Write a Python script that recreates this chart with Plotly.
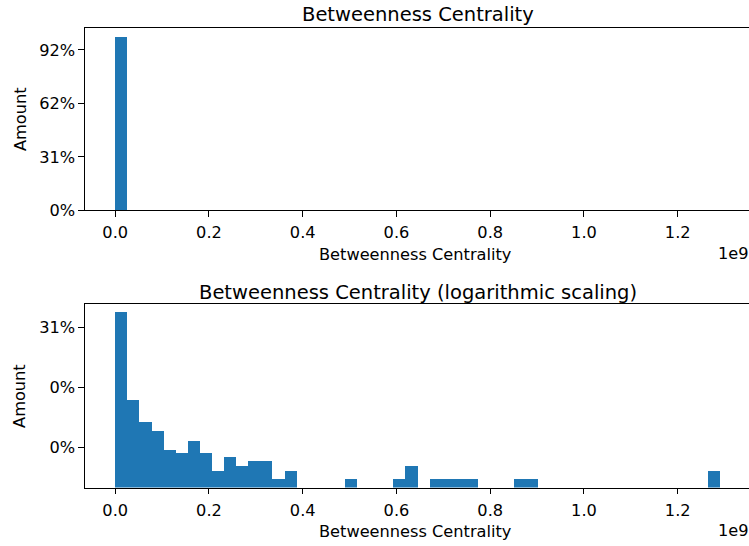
import numpy as np
import plotly.graph_objects as go

# ---------------- data ----------------
title_top = "Betweenness Centrality"
title_bottom = "Betweenness Centrality (logarithmic scaling)"
x_label = "Betweenness Centrality"
y_label = "Amount"
x_offset_text = "1e9"

x_max = 1.29e9          # upper edge of the last bin
n_bins = 50

# top panel (linear): only the first bin is visibly above zero
top_counts = [1755] + [0] * 49

# bottom panel (log scale)
log_counts = [1755, 62, 26, 19, 9, 8, 13, 8, 4, 7,
              5, 6, 6, 3, 4, 0, 0, 0, 0, 3,
              0, 0, 0, 3, 5, 0, 3, 3, 3, 3,
              0, 0, 0, 3, 3, 0, 0, 0, 0, 0,
              0, 0, 0, 0, 0, 0, 0, 0, 0, 4]

x_tick_vals = [0.0, 0.2e9, 0.4e9, 0.6e9, 0.8e9, 1.0e9, 1.2e9]
x_tick_text = ["0.0", "0.2", "0.4", "0.6", "0.8", "1.0", "1.2"]

top_y_tick_vals = [0, 540, 1080, 1620]
top_y_tick_text = ["0%", "31%", "62%", "92%"]

log_y_tick_vals = [10, 100, 1000]
log_y_tick_text = ["0%", "0%", "31%"]

# ---------------- layout ----------------
W, H = 749, 546
FONT = "DejaVu Sans"
BAR_COLOR = "#1f77b4"
TICK_SIZE = 16.2
TITLE_SIZE = 19.5

edges = np.linspace(0, x_max, n_bins + 1)
centers = (edges[:-1] + edges[1:]) / 2
bin_w = edges[1] - edges[0]
top = np.array(top_counts, dtype=float)
logc = np.array(log_counts, dtype=float)

x_lo = -0.05 * x_max
x_hi = 1.3521e9

top_y_range = [0, 1.05 * top.max()]
pos = logc[logc > 0]
llo, lhi = np.log10(pos.min()), np.log10(pos.max())
m = 0.05 * (lhi - llo)
log_y_range = [llo - m, lhi + m]

def py(px):
    return 1 - px / H

def px_x(px):
    return (px - 85) / (W - 85)

top_dom = [py(214.3), py(28.3)]
bot_dom = [py(496.7), py(310.0)]

fig = go.Figure()
fig.add_trace(go.Bar(x=centers, y=top, width=bin_w, marker_color=BAR_COLOR,
                     marker_line_width=0, xaxis="x", yaxis="y", showlegend=False))
fig.add_trace(go.Bar(x=centers, y=np.where(logc > 0, logc, np.nan), width=bin_w,
                     marker_color=BAR_COLOR, marker_line_width=0,
                     xaxis="x2", yaxis="y2", showlegend=False))

axis_common = dict(showline=True, linecolor="black", linewidth=1.2,
                   ticks="outside", ticklen=5.5, tickwidth=1.2, tickcolor="black",
                   showgrid=False, zeroline=False,
                   tickfont=dict(family=FONT, size=TICK_SIZE, color="black"))

fig.update_layout(
    width=W, height=H,
    margin=dict(l=85, r=0, t=0, b=0),
    paper_bgcolor="white", plot_bgcolor="white",
    bargap=0,
    xaxis=dict(domain=[0, 1], anchor="y", range=[x_lo, x_hi], mirror=True,
               tickvals=x_tick_vals, ticktext=x_tick_text, ticklabelstandoff=2,
               **axis_common),
    yaxis=dict(domain=top_dom, anchor="x", range=top_y_range,
               tickvals=top_y_tick_vals, ticktext=top_y_tick_text, **axis_common),
    xaxis2=dict(domain=[0, 1], anchor="y2", range=[x_lo, x_hi], mirror=True,
                tickvals=x_tick_vals, ticktext=x_tick_text, ticklabelstandoff=2,
                **axis_common),
    yaxis2=dict(domain=bot_dom, anchor="x2", type="log", range=log_y_range,
                tickvals=log_y_tick_vals, ticktext=log_y_tick_text, **axis_common),
)

annots = [
    dict(text=title_top, x=px_x(417.7), y=py(14.5), size=TITLE_SIZE, ax="center", angle=0),
    dict(text=title_bottom, x=px_x(417.7), y=py(297.5), size=TITLE_SIZE, ax="center", angle=0),
    dict(text=x_label, x=px_x(415), y=py(259), size=TICK_SIZE, ax="center", angle=0),
    dict(text=x_label, x=px_x(415), y=py(541), size=TICK_SIZE, ax="center", angle=0),
    dict(text=x_offset_text, x=px_x(751), y=py(258), size=TICK_SIZE, ax="right", angle=0),
    dict(text=x_offset_text, x=px_x(751), y=py(540), size=TICK_SIZE, ax="right", angle=0),
    dict(text=y_label, x=px_x(20), y=py(121.3), size=TICK_SIZE, ax="center", angle=-90),
    dict(text=y_label, x=px_x(20), y=py(403.3), size=TICK_SIZE, ax="center", angle=-90),
]
for a in annots:
    fig.add_annotation(text=a["text"], xref="paper", yref="paper", x=a["x"], y=a["y"],
                       xanchor=a["ax"], yanchor="middle", showarrow=False,
                       textangle=a["angle"],
                       font=dict(family=FONT, size=a["size"], color="black"))

fig.write_html("out.html")
